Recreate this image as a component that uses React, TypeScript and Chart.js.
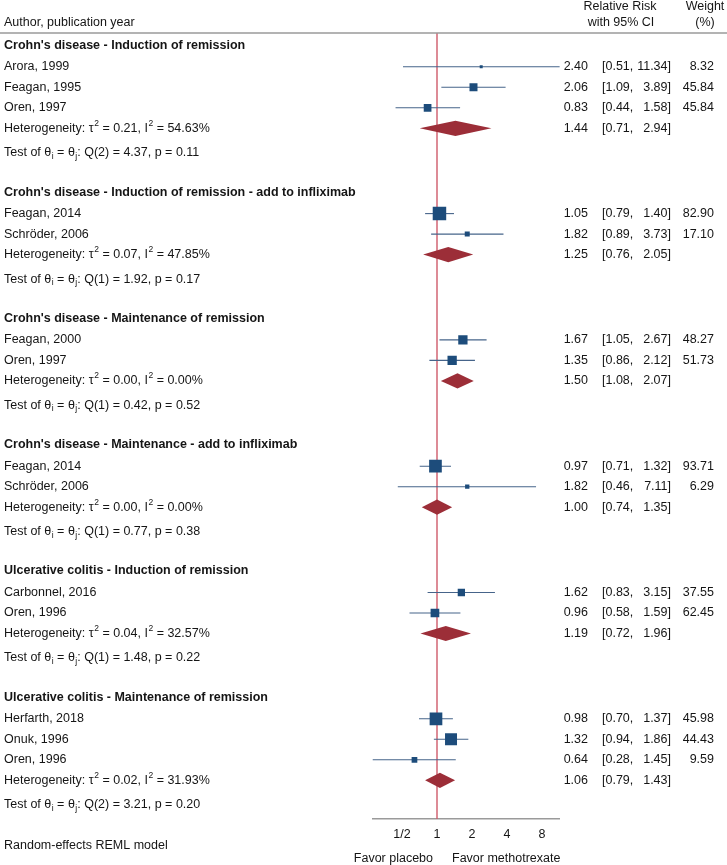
import React, { useEffect, useRef } from "react";
import { Chart, registerables } from "chart.js";

Chart.register(...registerables);

// ---------------- DATA ----------------
const groupTitles = [
  "Crohn's disease - Induction of remission",
  "Crohn's disease - Induction of remission - add to infliximab",
  "Crohn's disease - Maintenance of remission",
  "Crohn's disease - Maintenance - add to infliximab",
  "Ulcerative colitis - Induction of remission",
  "Ulcerative colitis - Maintenance of remission",
];

const studyLabels = [
  "Arora, 1999",
  "Feagan, 1995",
  "Oren, 1997",
  "Feagan, 2014",
  "Schröder, 2006",
  "Feagan, 2000",
  "Oren, 1997",
  "Feagan, 2014",
  "Schröder, 2006",
  "Carbonnel, 2016",
  "Oren, 1996",
  "Herfarth, 2018",
  "Onuk, 1996",
  "Oren, 1996",
];
const studyGroup = [0, 0, 0, 1, 1, 2, 2, 3, 3, 4, 4, 5, 5, 5];
const studyRR = [2.4, 2.06, 0.83, 1.05, 1.82, 1.67, 1.35, 0.97, 1.82, 1.62, 0.96, 0.98, 1.32, 0.64];
const studyLow = [0.51, 1.09, 0.44, 0.79, 0.89, 1.05, 0.86, 0.71, 0.46, 0.83, 0.58, 0.7, 0.94, 0.28];
const studyHigh = [11.34, 3.89, 1.58, 1.4, 3.73, 2.67, 2.12, 1.32, 7.11, 3.15, 1.59, 1.37, 1.86, 1.45];
const studyWeight = [8.32, 45.84, 45.84, 82.9, 17.1, 48.27, 51.73, 93.71, 6.29, 37.55, 62.45, 45.98, 44.43, 9.59];
// overall weights
const overallWeight = [0.78, 5.53, 5.12, 15.73, 2.16, 7.47, 7.47, 13.92, 1.6, 4.6, 6.53, 13.92, 12.43, 2.81];

const pooledRR = [1.44, 1.25, 1.5, 1.0, 1.19, 1.06];
const pooledLow = [0.71, 0.76, 1.08, 0.74, 0.72, 0.79];
const pooledHigh = [2.94, 2.05, 2.07, 1.35, 1.96, 1.43];

const tau2 = ["0.21", "0.07", "0.00", "0.00", "0.04", "0.02"];
const iSquared = ["54.63", "47.85", "0.00", "0.00", "32.57", "31.93"];
const qDf = [2, 1, 1, 1, 1, 2];
const qStat = ["4.37", "1.92", "0.42", "0.77", "1.48", "3.21"];
const pValue = ["0.11", "0.17", "0.52", "0.38", "0.22", "0.20"];

const xTickValues = [0.5, 1, 2, 4, 8];
const xTickLabels = ["1/2", "1", "2", "4", "8"];

// ---------------- STYLE / LAYOUT ----------------
const W = 727;
const H = 865;
const FONT = '"Liberation Sans", Arial, Helvetica, sans-serif';
const FS = 12.5;
const TEXT = "#151515";
const BOX = "#1d4c7b";
const CI_LINE = "#46648a";
const DIAMOND = "#9c2e38";
const REF = "#cf5b6a";
const AXIS = "#9a9a9a";

const TOP = 33; // header rule / plot top
const AXIS_Y = 819; // x axis line
const PX_PER_DOUBLING = 35;
const ONE_X = 437;

// vertical layout (in plot units = px from plot top)
const FIRST_HEADER = 12.3;
const HDR_GAP = 21.5;
const ROW_GAP = 20.5;
const HET_GAP = 20.5;
const TEST_GAP = 24.5;
const GROUP_GAP = 39.3;

const headerY: number[] = [];
const studyY: number[] = [];
const hetY: number[] = [];
const testY: number[] = [];
(() => {
  let y = FIRST_HEADER;
  for (let g = 0; g < groupTitles.length; g++) {
    headerY[g] = y;
    y += HDR_GAP;
    let last = y;
    let first = true;
    for (let i = 0; i < studyLabels.length; i++) {
      if (studyGroup[i] !== g) continue;
      if (!first) y += ROW_GAP;
      studyY[i] = y;
      last = y;
      first = false;
    }
    hetY[g] = last + HET_GAP;
    testY[g] = hetY[g] + TEST_GAP;
    y = testY[g] + GROUP_GAP;
  }
})();

const xMin = Math.min(...studyLow);
const xMax = Math.max(...studyHigh);
const plotLeft = ONE_X + PX_PER_DOUBLING * Math.log2(xMin);
const plotRight = ONE_X + PX_PER_DOUBLING * Math.log2(xMax);

type Part = { t: string; sup?: boolean; sub?: boolean };

function drawRich(ctx: CanvasRenderingContext2D, parts: Part[], x: number, y: number) {
  let cx = x;
  ctx.textAlign = "left";
  ctx.textBaseline = "middle";
  for (const p of parts) {
    if (p.sup || p.sub) {
      ctx.font = `8.5px ${FONT}`;
      ctx.fillText(p.t, cx + 0.5, y + (p.sup ? -5 : 3.5));
      cx += ctx.measureText(p.t).width + 0.5;
    } else {
      ctx.font = `${FS}px ${FONT}`;
      ctx.fillText(p.t, cx, y);
      cx += ctx.measureText(p.t).width;
    }
  }
}

const forestPlugin = {
  id: "forestPlugin",
  beforeDatasetsDraw(chart: any) {
    const { ctx, chartArea, scales } = chart;
    const xs = scales.x;
    const ys = scales.y;
    ctx.save();
    // reference line at RR = 1
    const x1 = xs.getPixelForValue(1);
    ctx.strokeStyle = REF;
    ctx.lineWidth = 1.4;
    ctx.beginPath();
    ctx.moveTo(x1, chartArea.top);
    ctx.lineTo(x1, chartArea.bottom);
    ctx.stroke();
    // pooled diamonds
    ctx.fillStyle = DIAMOND;
    for (let g = 0; g < pooledRR.length; g++) {
      const yc = ys.getPixelForValue(hetY[g]);
      const xl = xs.getPixelForValue(pooledLow[g]);
      const xc = xs.getPixelForValue(pooledRR[g]);
      const xh = xs.getPixelForValue(pooledHigh[g]);
      ctx.beginPath();
      ctx.moveTo(xl, yc);
      ctx.lineTo(xc, yc - 7.6);
      ctx.lineTo(xh, yc);
      ctx.lineTo(xc, yc + 7.6);
      ctx.closePath();
      ctx.fill();
    }
    ctx.restore();
  },
  afterDraw(chart: any) {
    const { ctx, scales } = chart;
    const ys = scales.y;
    ctx.save();
    ctx.fillStyle = TEXT;
    ctx.textBaseline = "middle";

    // column headers
    ctx.font = `${FS}px ${FONT}`;
    ctx.textAlign = "left";
    ctx.fillText("Author, publication year", 4, 23);
    ctx.textAlign = "center";
    ctx.fillText("Relative Risk", 620, 7);
    ctx.fillText("with 95% CI", 621, 23);
    ctx.fillText("Weight", 705, 7);
    ctx.fillText("(%)", 705, 23);

    // header rule
    ctx.strokeStyle = AXIS;
    ctx.lineWidth = 1.5;
    ctx.beginPath();
    ctx.moveTo(0, TOP);
    ctx.lineTo(W, TOP);
    ctx.stroke();

    const drawNumbers = (yp: number, rr: number, lo: number, hi: number, w?: number) => {
      ctx.font = `${FS}px ${FONT}`;
      ctx.textAlign = "right";
      ctx.fillText(rr.toFixed(2), 588, yp);
      ctx.textAlign = "left";
      ctx.fillText("[" + lo.toFixed(2) + ",", 602, yp);
      ctx.textAlign = "right";
      ctx.fillText(hi.toFixed(2) + "]", 671, yp);
      if (w !== undefined) ctx.fillText(w.toFixed(2), 714, yp);
    };

    for (let g = 0; g < groupTitles.length; g++) {
      ctx.font = `bold ${FS}px ${FONT}`;
      ctx.textAlign = "left";
      ctx.fillText(groupTitles[g], 4, ys.getPixelForValue(headerY[g]));
      const hy = ys.getPixelForValue(hetY[g]);
      drawRich(
        ctx,
        [
          { t: "Heterogeneity: τ" },
          { t: "2", sup: true },
          { t: " = " + tau2[g] + ", I" },
          { t: "2", sup: true },
          { t: " = " + iSquared[g] + "%" },
        ],
        4,
        hy
      );
      drawNumbers(hy, pooledRR[g], pooledLow[g], pooledHigh[g]);
      drawRich(
        ctx,
        [
          { t: "Test of θ" },
          { t: "i", sub: true },
          { t: " = θ" },
          { t: "j", sub: true },
          { t: ": Q(" + qDf[g] + ") = " + qStat[g] + ", p = " + pValue[g] },
        ],
        4,
        ys.getPixelForValue(testY[g])
      );
    }
    for (let i = 0; i < studyLabels.length; i++) {
      const yp = ys.getPixelForValue(studyY[i]);
      ctx.font = `${FS}px ${FONT}`;
      ctx.textAlign = "left";
      ctx.fillText(studyLabels[i], 4, yp);
      drawNumbers(yp, studyRR[i], studyLow[i], studyHigh[i], studyWeight[i]);
    }

    // footer
    ctx.font = `${FS}px ${FONT}`;
    ctx.textAlign = "left";
    ctx.fillText("Random-effects REML model", 4, 846);
    ctx.textAlign = "right";
    ctx.fillText("Favor placebo", 433, 859);
    ctx.textAlign = "left";
    ctx.fillText("Favor methotrexate", 452, 859);
    ctx.restore();
  },
};

export default function App() {
  const ref = useRef<HTMLCanvasElement | null>(null);

  useEffect(() => {
    if (!ref.current) return;
    const ciSets = studyLabels.map((_, i) => ({
      type: "line" as const,
      data: [
        { x: studyLow[i], y: studyY[i] },
        { x: studyHigh[i], y: studyY[i] },
      ],
      borderColor: CI_LINE,
      borderWidth: 1.1,
      pointRadius: 0,
      showLine: true,
      fill: false,
      order: 2,
      clip: false as any,
    }));
    const chart = new Chart(ref.current, {
      type: "scatter",
      data: {
        datasets: [
          {
            type: "scatter",
            data: studyRR.map((v, i) => ({ x: v, y: studyY[i] })),
            pointStyle: "rect",
            pointRadius: overallWeight.map((w) => (3.4 * Math.sqrt(w)) / Math.SQRT2),
            backgroundColor: BOX,
            borderColor: BOX,
            borderWidth: 0,
            order: 0,
          } as any,
          ...ciSets,
        ],
      },
      options: {
        animation: false,
        responsive: false,
        events: [],
        layout: {
          padding: { left: plotLeft, right: W - plotRight, top: TOP, bottom: 0 },
        },
        plugins: {
          legend: { display: false },
          tooltip: { enabled: false },
          title: { display: false },
        },
        scales: {
          x: {
            type: "logarithmic",
            position: "bottom",
            min: xMin,
            max: xMax,
            grid: { display: false, drawTicks: false },
            border: { display: true, color: AXIS, width: 1.5 },
            ticks: {
              autoSkip: false,
              maxRotation: 0,
              padding: 8,
              color: TEXT,
              font: { family: FONT, size: FS },
              callback: (val: any) => {
                const idx = xTickValues.indexOf(Number(val));
                return idx >= 0 ? xTickLabels[idx] : "";
              },
            },
            afterBuildTicks: (axis: any) => {
              axis.ticks = xTickValues.map((v) => ({ value: v }));
            },
            afterFit: (axis: any) => {
              axis.height = H - AXIS_Y;
            },
          },
          y: {
            type: "linear",
            display: false,
            reverse: true,
            min: 0,
            max: AXIS_Y - TOP,
          },
        },
      } as any,
      plugins: [forestPlugin as any],
    });
    return () => chart.destroy();
  }, []);

  return (
    <div style={{ position: "absolute", left: 0, top: 0, width: W, height: H, background: "#fff" }}>
      <canvas ref={ref} width={W} height={H} style={{ display: "block", width: W, height: H }} />
    </div>
  );
}
